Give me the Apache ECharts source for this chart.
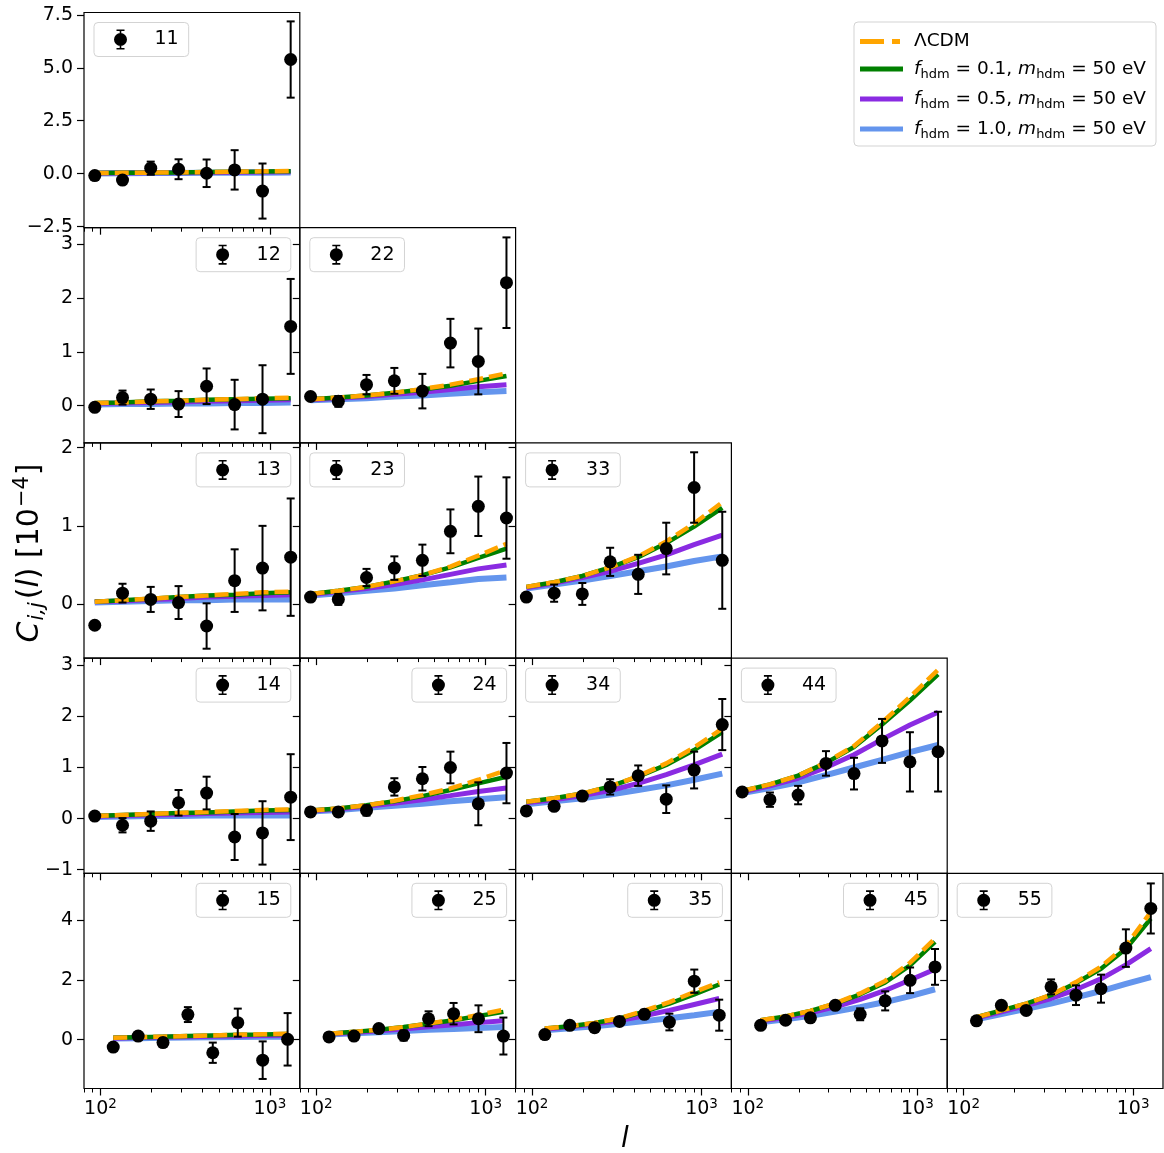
<!DOCTYPE html>
<html><head><meta charset="utf-8">
<script src="https://cdn.jsdelivr.net/npm/echarts@6/dist/echarts.min.js"></script>
<style>html,body{margin:0;padding:0;background:#fff}#c{width:1164px;height:1153px}</style>
</head><body><div id="c"></div>
<script>
// ---------- data ----------
const ELL_ROWS_1_4 = [92.6, 135, 198, 289, 423, 619, 904, 1325];
const ELL_ROW_5 = [119, 167, 234, 328, 460, 646, 906, 1271];
const X_RANGE = [80, 1500];
const X_MAJOR = [100, 1000];
const X_MINOR = [80, 90, 200, 300, 400, 500, 600, 700, 800, 900];
const Y_RANGE = [[-2.55, 7.61], [-0.69, 3.30], [-0.69, 2.06], [-1.07, 3.14], [-1.64, 5.58]];
const Y_TICKS = [[-2.5, 0, 2.5, 5, 7.5], [0, 1, 2, 3], [0, 1, 2], [-1, 0, 1, 2, 3], [0, 2, 4]];
const Y_DECIMALS = [1, 0, 0, 0, 0];
const MODEL_NAMES = ['ΛCDM', 'f0.1', 'f0.5', 'f1.0'];
const F_HDM = ['0.1', '0.5', '1.0'];
const M_HDM = '50 eV';

// panel 11
const pts11 = [-0.09, -0.30, 0.26, 0.21, 0.02, 0.18, -0.82, 5.39];
const err11 = [0.05, 0.08, 0.31, 0.47, 0.65, 0.93, 1.30, 1.80];
const lcdm11 = [0.03, 0.04, 0.05, 0.06, 0.08, 0.09, 0.11, 0.13];
const f01_11 = [0.03, 0.04, 0.05, 0.06, 0.08, 0.09, 0.10, 0.12];
const f05_11 = [0.02, 0.03, 0.04, 0.05, 0.06, 0.07, 0.08, 0.09];
const f10_11 = [0.01, 0.02, 0.03, 0.03, 0.04, 0.05, 0.05, 0.06];
// panel 12
const pts12 = [-0.03, 0.15, 0.12, 0.03, 0.36, 0.02, 0.12, 1.47];
const err12 = [0.04, 0.13, 0.18, 0.24, 0.33, 0.46, 0.63, 0.88];
const lcdm12 = [0.05, 0.06, 0.08, 0.09, 0.11, 0.12, 0.14, 0.15];
const f01_12 = [0.05, 0.06, 0.08, 0.09, 0.11, 0.12, 0.13, 0.14];
const f05_12 = [0.04, 0.05, 0.06, 0.07, 0.08, 0.09, 0.10, 0.11];
const f10_12 = [0.02, 0.03, 0.03, 0.04, 0.04, 0.05, 0.05, 0.06];
// panel 22
const pts22 = [0.17, 0.08, 0.39, 0.46, 0.27, 1.16, 0.82, 2.28];
const err22 = [0.05, 0.10, 0.18, 0.24, 0.32, 0.45, 0.61, 0.84];
const lcdm22 = [0.12, 0.15, 0.19, 0.24, 0.31, 0.39, 0.49, 0.60];
const f01_22 = [0.12, 0.15, 0.19, 0.24, 0.30, 0.37, 0.46, 0.55];
const f05_22 = [0.11, 0.14, 0.17, 0.21, 0.25, 0.30, 0.35, 0.39];
const f10_22 = [0.10, 0.12, 0.14, 0.17, 0.19, 0.22, 0.25, 0.27];
// panel 13
const pts13 = [-0.27, 0.14, 0.06, 0.02, -0.28, 0.30, 0.46, 0.60];
const err13 = [0.03, 0.12, 0.16, 0.21, 0.29, 0.40, 0.54, 0.75];
const lcdm13 = [0.03, 0.05, 0.07, 0.09, 0.11, 0.13, 0.15, 0.16];
const f01_13 = [0.03, 0.05, 0.07, 0.09, 0.11, 0.12, 0.14, 0.15];
const f05_13 = [0.03, 0.04, 0.06, 0.07, 0.09, 0.10, 0.11, 0.12];
const f10_13 = [0.02, 0.03, 0.04, 0.05, 0.05, 0.06, 0.06, 0.06];
// panel 23
const pts23 = [0.09, 0.06, 0.34, 0.46, 0.56, 0.93, 1.25, 1.10];
const err23 = [0.03, 0.07, 0.11, 0.15, 0.20, 0.28, 0.38, 0.52];
const lcdm23 = [0.13, 0.17, 0.22, 0.29, 0.37, 0.48, 0.62, 0.77];
const f01_23 = [0.13, 0.17, 0.22, 0.29, 0.37, 0.47, 0.59, 0.71];
const f05_23 = [0.12, 0.16, 0.20, 0.25, 0.31, 0.38, 0.45, 0.50];
const f10_23 = [0.11, 0.14, 0.17, 0.20, 0.24, 0.28, 0.32, 0.34];
// panel 33
const pts33 = [0.09, 0.14, 0.13, 0.54, 0.38, 0.71, 1.49, 0.56];
const err33 = [0.04, 0.11, 0.14, 0.18, 0.25, 0.33, 0.45, 0.62];
const lcdm33 = [0.22, 0.28, 0.36, 0.47, 0.61, 0.80, 1.03, 1.30];
const f01_33 = [0.22, 0.28, 0.36, 0.47, 0.60, 0.78, 0.99, 1.23];
const f05_33 = [0.21, 0.27, 0.34, 0.42, 0.52, 0.63, 0.76, 0.88];
const f10_33 = [0.20, 0.25, 0.30, 0.36, 0.42, 0.48, 0.55, 0.61];
// panel 14
const pts14 = [0.05, -0.13, -0.05, 0.31, 0.50, -0.36, -0.28, 0.42];
const err14 = [0.04, 0.14, 0.19, 0.25, 0.32, 0.45, 0.62, 0.84];
const lcdm14 = [0.05, 0.07, 0.09, 0.11, 0.13, 0.15, 0.17, 0.18];
const f01_14 = [0.05, 0.07, 0.09, 0.11, 0.12, 0.14, 0.16, 0.17];
const f05_14 = [0.04, 0.06, 0.07, 0.08, 0.10, 0.11, 0.12, 0.13];
const f10_14 = [0.03, 0.04, 0.05, 0.05, 0.06, 0.06, 0.06, 0.06];
// panel 24
const pts24 = [0.13, 0.13, 0.16, 0.62, 0.78, 1.00, 0.29, 0.89];
const err24 = [0.04, 0.06, 0.10, 0.17, 0.23, 0.31, 0.42, 0.59];
const lcdm24 = [0.16, 0.20, 0.26, 0.35, 0.46, 0.59, 0.76, 0.95];
const f01_24 = [0.16, 0.20, 0.26, 0.34, 0.44, 0.56, 0.69, 0.82];
const f05_24 = [0.15, 0.19, 0.24, 0.30, 0.37, 0.45, 0.53, 0.60];
const f10_24 = [0.14, 0.17, 0.21, 0.25, 0.29, 0.34, 0.38, 0.42];
// panel 34
const pts34 = [0.15, 0.24, 0.44, 0.62, 0.84, 0.38, 0.95, 1.84];
const err34 = [0.04, 0.06, 0.08, 0.15, 0.20, 0.27, 0.36, 0.50];
const lcdm34 = [0.33, 0.40, 0.49, 0.63, 0.83, 1.08, 1.39, 1.76];
const f01_34 = [0.33, 0.40, 0.49, 0.63, 0.82, 1.05, 1.34, 1.69];
const f05_34 = [0.31, 0.37, 0.45, 0.55, 0.69, 0.86, 1.05, 1.26];
const f10_34 = [0.28, 0.34, 0.40, 0.47, 0.56, 0.65, 0.76, 0.88];
// panel 44
const pts44 = [0.52, 0.37, 0.46, 1.08, 0.88, 1.52, 1.11, 1.31];
const err44 = [0.05, 0.14, 0.18, 0.24, 0.31, 0.43, 0.58, 0.78];
const lcdm44 = [0.54, 0.67, 0.84, 1.10, 1.42, 1.88, 2.38, 2.91];
const f01_44 = [0.54, 0.67, 0.84, 1.09, 1.40, 1.84, 2.31, 2.82];
const f05_44 = [0.52, 0.64, 0.79, 1.00, 1.25, 1.55, 1.83, 2.08];
const f10_44 = [0.50, 0.60, 0.71, 0.85, 1.00, 1.15, 1.30, 1.44];
// panel 15
const pts15 = [-0.25, 0.12, -0.10, 0.84, -0.44, 0.57, -0.69, 0.01];
const err15 = [0.05, 0.10, 0.14, 0.25, 0.34, 0.47, 0.63, 0.88];
const lcdm15 = [0.06, 0.08, 0.10, 0.12, 0.14, 0.16, 0.18, 0.20];
const f01_15 = [0.06, 0.08, 0.10, 0.12, 0.14, 0.16, 0.17, 0.19];
const f05_15 = [0.05, 0.07, 0.08, 0.10, 0.11, 0.12, 0.14, 0.15];
const f10_15 = [0.04, 0.05, 0.06, 0.07, 0.08, 0.09, 0.10, 0.10];
// panel 25
const pts25 = [0.09, 0.12, 0.37, 0.14, 0.70, 0.87, 0.70, 0.12];
const err25 = [0.05, 0.08, 0.12, 0.17, 0.25, 0.36, 0.45, 0.62];
const lcdm25 = [0.20, 0.26, 0.33, 0.42, 0.54, 0.67, 0.83, 1.00];
const f01_25 = [0.20, 0.26, 0.33, 0.42, 0.53, 0.65, 0.79, 0.93];
const f05_25 = [0.19, 0.24, 0.30, 0.36, 0.43, 0.50, 0.57, 0.63];
const f10_25 = [0.17, 0.21, 0.25, 0.29, 0.33, 0.36, 0.39, 0.42];
// panel 35
const pts35 = [0.17, 0.48, 0.40, 0.61, 0.85, 0.59, 1.96, 0.82];
const err35 = [0.05, 0.08, 0.10, 0.12, 0.15, 0.28, 0.39, 0.52];
const lcdm35 = [0.37, 0.45, 0.56, 0.72, 0.97, 1.26, 1.60, 1.92];
const f01_35 = [0.37, 0.45, 0.56, 0.71, 0.94, 1.21, 1.52, 1.85];
const f05_35 = [0.35, 0.43, 0.52, 0.64, 0.80, 0.98, 1.18, 1.38];
const f10_35 = [0.31, 0.38, 0.45, 0.53, 0.62, 0.72, 0.82, 0.93];
// panel 45
const pts45 = [0.48, 0.65, 0.73, 1.15, 0.85, 1.30, 1.99, 2.44];
const err45 = [0.06, 0.08, 0.10, 0.12, 0.20, 0.32, 0.43, 0.60];
const lcdm45 = [0.65, 0.78, 0.96, 1.22, 1.55, 1.97, 2.58, 3.39];
const f01_45 = [0.65, 0.78, 0.96, 1.21, 1.52, 1.92, 2.49, 3.28];
const f05_45 = [0.62, 0.74, 0.90, 1.10, 1.35, 1.65, 2.00, 2.36];
const f10_45 = [0.58, 0.68, 0.80, 0.94, 1.09, 1.26, 1.46, 1.69];
// panel 55
const pts55 = [0.63, 1.15, 0.98, 1.77, 1.49, 1.71, 3.07, 4.40];
const err55 = [0.06, 0.10, 0.12, 0.25, 0.33, 0.47, 0.63, 0.84];
const lcdm55 = [0.75, 0.98, 1.21, 1.50, 1.93, 2.45, 3.15, 4.28];
const f01_55 = [0.75, 0.98, 1.21, 1.49, 1.90, 2.38, 3.05, 4.06];
const f05_55 = [0.72, 0.93, 1.14, 1.38, 1.68, 2.04, 2.51, 3.05];
const f10_55 = [0.68, 0.86, 1.03, 1.21, 1.42, 1.63, 1.87, 2.10];

// lookup table built from the named arrays
const PANEL_TABLE = {
  '11': [pts11, err11, lcdm11, f01_11, f05_11, f10_11],
  '12': [pts12, err12, lcdm12, f01_12, f05_12, f10_12],
  '22': [pts22, err22, lcdm22, f01_22, f05_22, f10_22],
  '13': [pts13, err13, lcdm13, f01_13, f05_13, f10_13],
  '23': [pts23, err23, lcdm23, f01_23, f05_23, f10_23],
  '33': [pts33, err33, lcdm33, f01_33, f05_33, f10_33],
  '14': [pts14, err14, lcdm14, f01_14, f05_14, f10_14],
  '24': [pts24, err24, lcdm24, f01_24, f05_24, f10_24],
  '34': [pts34, err34, lcdm34, f01_34, f05_34, f10_34],
  '44': [pts44, err44, lcdm44, f01_44, f05_44, f10_44],
  '15': [pts15, err15, lcdm15, f01_15, f05_15, f10_15],
  '25': [pts25, err25, lcdm25, f01_25, f05_25, f10_25],
  '35': [pts35, err35, lcdm35, f01_35, f05_35, f10_35],
  '45': [pts45, err45, lcdm45, f01_45, f05_45, f10_45],
  '55': [pts55, err55, lcdm55, f01_55, f05_55, f10_55]
};

// ---------- layout / style ----------
const CHART_W = 1164;
const G_LEFT = 84, G_TOP = 12.5, CELL_W = 215.8, CELL_H = 215.2;
const FONT = 'DejaVu Sans';
const LEGEND_RIGHT = {'12':1,'13':1,'14':1,'24':1,'15':1,'25':1,'35':1,'45':1};
const MODEL_STYLE = {
  'f1.0': {color: '#6495ED', width: 6, type: 'solid'},
  'f0.5': {color: '#8A2BE2', width: 5, type: 'solid'},
  'f0.1': {color: '#008000', width: 4.5, type: 'solid'},
  'ΛCDM': {color: '#FFA500', width: 4.5, type: [14, 6]}
};
const DRAW_ORDER = ['f1.0', 'f0.5', 'f0.1', 'ΛCDM'];
const MODEL_IDX = {'ΛCDM': 2, 'f0.1': 3, 'f0.5': 4, 'f1.0': 5};

const ERR_ICON = 'path://M3,0 H11 V1.6 H7.8 V18.4 H11 V20 H3 V18.4 H6.2 V1.6 H3 Z M7,3.5 A6.5,6.5 0 1 1 6.99,3.5 Z';
const SOLID_ICON = 'path://M0,0 H43 V5 H0 Z';
const DASH_ICON = 'path://M0,0 H24 V5 H0 Z M32,0 H40 V5 H32 Z M42.9,2.4 H43 V2.6 H42.9 Z';

function fmtY(v, dec) {
  const s = Math.abs(v).toFixed(dec);
  return (v < 0 ? '\u2212' : '') + s;
}

function renderErr(params, api) {
  const x = api.value(0);
  const p1 = api.coord([x, api.value(1)]);
  const p2 = api.coord([x, api.value(2)]);
  const st = {stroke: '#000', lineWidth: 2};
  return {type: 'group', children: [
    {type: 'line', shape: {x1: p1[0], y1: p1[1], x2: p2[0], y2: p2[1]}, style: st},
    {type: 'line', shape: {x1: p1[0] - 4, y1: p1[1], x2: p1[0] + 4, y2: p1[1]}, style: st},
    {type: 'line', shape: {x1: p2[0] - 4, y1: p2[1], x2: p2[0] + 4, y2: p2[1]}, style: st}
  ]};
}

const grids = [], xAxes = [], yAxes = [], series = [], legends = [];

legends.push({
  data: MODEL_NAMES.map(function (n) { return {name: n, icon: n === 'ΛCDM' ? DASH_ICON : SOLID_ICON}; }),
  orient: 'vertical',
  left: 854, top: 22,
  padding: [10, 10, 5, 6],
  itemGap: 6,
  itemWidth: 43, itemHeight: 5,
  selectedMode: false,
  backgroundColor: 'rgba(255,255,255,0.8)',
  borderColor: '#d3d3d3', borderWidth: 1, borderRadius: 4,
  formatter: function (name) {
    if (name === 'ΛCDM') return '{n|ΛCDM}';
    const f = F_HDM[MODEL_NAMES.indexOf(name) - 1];
    return '{i|f}{s|hdm}{n| = ' + f + ',}{i| m}{s|hdm}{n| = ' + M_HDM + '}';
  },
  textStyle: {
    padding: [0, 0, 0, 6],
    rich: {
      n: {fontFamily: FONT, fontSize: 18.5, color: '#000', lineHeight: 24},
      i: {fontFamily: FONT, fontSize: 18.5, fontStyle: 'italic', color: '#000', lineHeight: 24},
      s: {fontFamily: FONT, fontSize: 13, color: '#000', lineHeight: 14, padding: [11, 0, 0, 0]}
    }
  }
});

let gi = 0;
for (let r = 0; r < 5; r++) {
  for (let c = 0; c <= r; c++) {
    const name = '' + (c + 1) + (r + 1);
    const tbl = PANEL_TABLE[name];
    const ells = r === 4 ? ELL_ROW_5 : ELL_ROWS_1_4;
    const left = G_LEFT + c * CELL_W, top = G_TOP + r * CELL_H;
    grids.push({left: left, top: top, width: CELL_W, height: CELL_H, show: true,
      borderColor: '#000', borderWidth: 1.2, backgroundColor: 'transparent', containLabel: false});
    const bottomRow = (r === 4);
    xAxes.push({
      type: 'log', logBase: 10, gridIndex: gi, min: X_RANGE[0], max: X_RANGE[1],
      position: 'bottom', offset: 0,
      axisLine: {show: false, onZero: false}, splitLine: {show: false},
      axisTick: {show: true, length: 7, lineStyle: {color: '#000', width: 1.2}, customValues: X_MAJOR},
      axisLabel: {show: bottomRow, customValues: X_MAJOR, margin: 9,
        fontFamily: FONT, fontSize: 19, color: '#000',
        formatter: function (v) { return '10{sup|' + Math.round(Math.log10(v)) + '}'; },
        rich: {sup: {fontFamily: FONT, fontSize: 13.5, color: '#000', padding: [0, 0, 9, 0]}}
      }
    });
    xAxes.push({
      type: 'log', logBase: 10, gridIndex: gi, min: X_RANGE[0], max: X_RANGE[1],
      position: 'bottom', offset: 0,
      axisLine: {show: false, onZero: false}, splitLine: {show: false},
      axisTick: {show: true, length: 4, lineStyle: {color: '#000', width: 1}, customValues: X_MINOR},
      axisLabel: {show: false, customValues: X_MINOR}
    });
    yAxes.push({
      type: 'value', gridIndex: gi, min: Y_RANGE[r][0], max: Y_RANGE[r][1],
      position: 'left', offset: 0,
      axisLine: {show: false, onZero: false}, splitLine: {show: false},
      axisTick: {show: true, length: 7, lineStyle: {color: '#000', width: 1.2}, customValues: Y_TICKS[r]},
      axisLabel: {show: c === 0, customValues: Y_TICKS[r], margin: 11,
        fontFamily: FONT, fontSize: 19, color: '#000',
        formatter: (function (dec) { return function (v) { return fmtY(v, dec); }; })(Y_DECIMALS[r])}
    });
    const xi = gi * 2;
    DRAW_ORDER.forEach(function (m) {
      const vals = tbl[MODEL_IDX[m]];
      const st = MODEL_STYLE[m];
      series.push({
        name: m, type: 'line', xAxisIndex: xi, yAxisIndex: gi,
        data: ells.map(function (e, k) { return [e, vals[k]]; }),
        symbol: 'none', showSymbol: false, z: 2, silent: true,
        color: st.color, itemStyle: {color: st.color},
        lineStyle: {color: st.color, width: st.width, type: st.type, cap: 'butt'}
      });
    });
    const pts = tbl[0], err = tbl[1];
    series.push({
      type: 'custom', xAxisIndex: xi, yAxisIndex: gi, z: 3, silent: true,
      renderItem: renderErr,
      encode: {x: 0, y: [1, 2]},
      data: ells.map(function (e, k) { return [e, pts[k] - err[k], pts[k] + err[k]]; })
    });
    series.push({
      name: name, type: 'scatter', xAxisIndex: xi, yAxisIndex: gi, z: 4, silent: true,
      symbol: 'circle', symbolSize: 13, itemStyle: {color: '#000', opacity: 1},
      data: ells.map(function (e, k) { return [e, pts[k]]; })
    });
    const lg = {
      data: [name], orient: 'horizontal', top: top + 10,
      padding: [7, 10, 7, 20], itemWidth: 14, itemHeight: 20,
      icon: ERR_ICON, selectedMode: false,
      itemStyle: {color: '#000', opacity: 1},
      backgroundColor: 'rgba(255,255,255,0.8)',
      borderColor: '#d3d3d3', borderWidth: 1, borderRadius: 4,
      textStyle: {fontFamily: FONT, fontSize: 19, color: '#000', lineHeight: 20, padding: [0, 0, 0, 22]}
    };
    if (LEGEND_RIGHT[name]) lg.right = CHART_W - (left + CELL_W) + 9;
    else lg.left = left + 10;
    legends.push(lg);
    gi++;
  }
}

const chart = echarts.init(document.getElementById('c'), null, {renderer: 'canvas'});
chart.setOption({
  animation: false,
  backgroundColor: '#fff',
  textStyle: {fontFamily: FONT},
  grid: grids, xAxis: xAxes, yAxis: yAxes, series: series, legend: legends,
  graphic: [
    {type: 'text', x: 30, y: 553, rotation: Math.PI / 2,
      style: {text: '{i|C}{si|i,j}{n|(}{i|l}{n|) [10}{sup|\u22124}{n|]}',
        align: 'center', verticalAlign: 'middle',
        rich: {
          n: {fontFamily: FONT, fontSize: 30, fill: '#000', lineHeight: 36},
          i: {fontFamily: FONT, fontSize: 30, fontStyle: 'italic', fill: '#000', lineHeight: 36},
          si: {fontFamily: FONT, fontSize: 21, fontStyle: 'italic', fill: '#000', lineHeight: 21, padding: [15, 3, 0, 1]},
          sup: {fontFamily: FONT, fontSize: 21, fill: '#000', lineHeight: 21, padding: [0, 1, 15, 1]}
        }}},
    {type: 'text', x: 625, y: 1140,
      style: {text: 'l', fontFamily: FONT, fontSize: 28, fontStyle: 'italic', fill: '#000',
        align: 'center', verticalAlign: 'middle'}}
  ]
});
</script></body></html>
